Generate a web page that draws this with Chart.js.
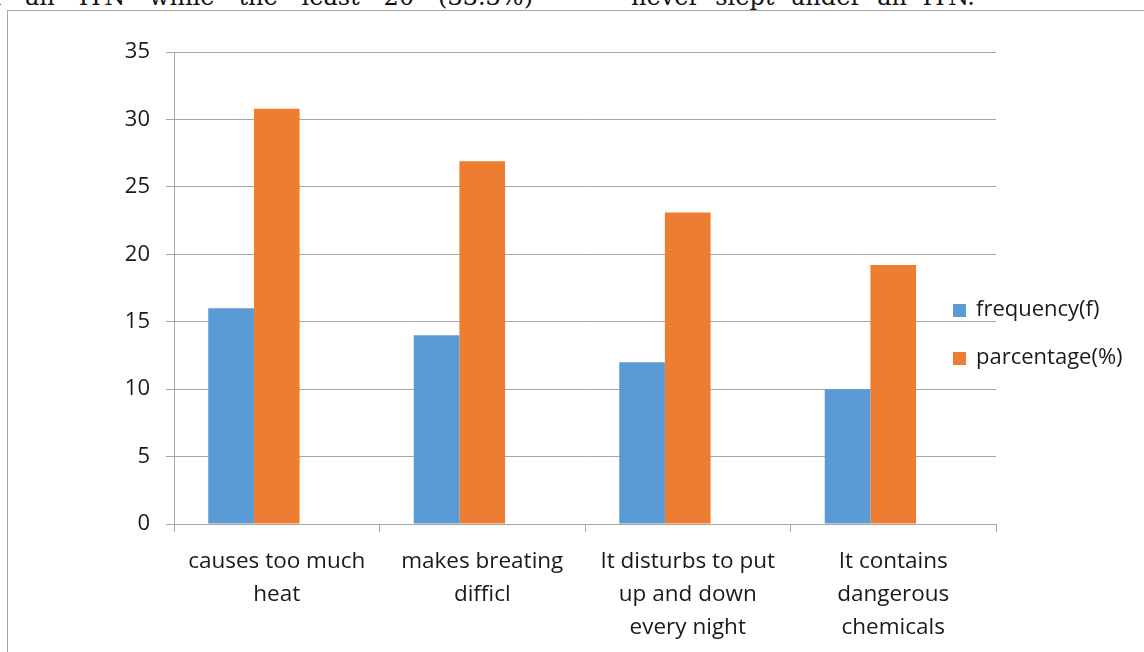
<!DOCTYPE html>
<html>
<head>
<meta charset="utf-8">
<script src="https://cdn.jsdelivr.net/npm/chart.js@4.4.0/dist/chart.umd.min.js"></script>
<style>
  html, body { margin: 0; padding: 0; background: #fff; }
  #page { position: relative; width: 1144px; height: 652px; overflow: hidden; }
  .doc { position: absolute; top: -15px; font-family: "DejaVu Serif", serif; font-size: 24px; line-height: 24px; color: #111; white-space: nowrap; }
  #frame { position: absolute; left: 7px; top: 10px; width: 1200px; height: 700px; border: 1.5px solid #a6a6a6; box-sizing: border-box; }
  #c { position: absolute; left: 0; top: 0; }
</style>
</head>
<body>
<div id="page">
  <div class="doc" id="doc1" data-l="-22" data-r="533">in an ITN while the least 20 (33.3%)</div>
  <div class="doc" id="doc2" data-l="631" data-r="975">never slept under an ITN.</div>
  <div id="frame"></div>
  <canvas id="c" width="1144" height="652"></canvas>
</div>
<script>
// categories and series
var categories = [
  ['causes too much', 'heat'],
  ['makes breating', 'difficl'],
  ['It disturbs to put', 'up and down', 'every night'],
  ['It contains', 'dangerous', 'chemicals']
];
var frequency = [16, 14, 12, 10];
var percentage = [30.8, 26.9, 23.1, 19.2];
var emptySeries = [null, null, null, null]; // excel keeps a blank 3rd series slot
var yTicks = [0, 5, 10, 15, 20, 25, 30, 35];

var FONT = '"Open Sans", sans-serif';
var TXT = '#1a1a1a';
var GRID = '#a6a6a6';

// justify the cut-off document line behind the chart
['doc1', 'doc2'].forEach(function (id) {
  var el = document.getElementById(id);
  var l = +el.dataset.l, r = +el.dataset.r;
  el.style.left = l + 'px';
  var gaps = el.textContent.split(' ').length - 1;
  var extra = (r - l) - el.getBoundingClientRect().width;
  el.style.wordSpacing = (extra / gaps) + 'px';
});

// legend drawn over the plot, like the excel original
var sideLegend = {
  id: 'sideLegend',
  afterDraw: function (chart) {
    var ctx = chart.ctx;
    var area = chart.chartArea;
    var x = area.right - 43;
    var y0 = (area.top + area.bottom) / 2 + 22;
    ctx.save();
    ctx.font = '22px ' + FONT;
    ctx.textBaseline = 'middle';
    chart.data.datasets.forEach(function (ds, i) {
      if (!ds.label) return;
      var y = y0 + i * 48;
      ctx.fillStyle = ds.backgroundColor;
      ctx.fillRect(x, y - 6, 13, 13);
      ctx.fillStyle = TXT;
      ctx.fillText(ds.label, x + 23, y);
    });
    ctx.restore();
  }
};

var ctx = document.getElementById('c').getContext('2d');
var chart = new Chart(ctx, {
  type: 'bar',
  data: {
    labels: categories,
    datasets: [
      { label: 'frequency(f)', data: frequency, backgroundColor: '#5b9bd5' },
      { label: 'parcentage(%)', data: percentage, backgroundColor: '#ed7d31' },
      { label: '', data: emptySeries, backgroundColor: 'rgba(0,0,0,0)' }
    ]
  },
  plugins: [sideLegend],
  options: {
    responsive: false,
    animation: false,
    layout: { padding: { top: 52, right: 148, left: 0, bottom: 0 } },
    datasets: { bar: { categoryPercentage: 3 / 4.5, barPercentage: 1 } },
    plugins: { legend: { display: false }, tooltip: { enabled: false } },
    scales: {
      x: {
        grid: { offset: true, drawOnChartArea: false, drawTicks: true, tickLength: 8, color: GRID },
        border: { display: true, color: GRID },
        ticks: { color: TXT, padding: 13, maxRotation: 0, autoSkip: false, font: { family: FONT, size: 22.5, lineHeight: 1.47 } },
        afterFit: function (s) { s.height = 652 - 524; }
      },
      y: {
        min: 0,
        max: 35,
        afterBuildTicks: function (s) { s.ticks = yTicks.map(function (v) { return { value: v }; }); },
        grid: { color: GRID, tickLength: 8 },
        border: { display: true, color: GRID },
        ticks: { color: TXT, padding: 16, font: { family: FONT, size: 22 } },
        afterFit: function (s) { s.width = 174; }
      }
    }
  }
});
</script>
</body>
</html>
